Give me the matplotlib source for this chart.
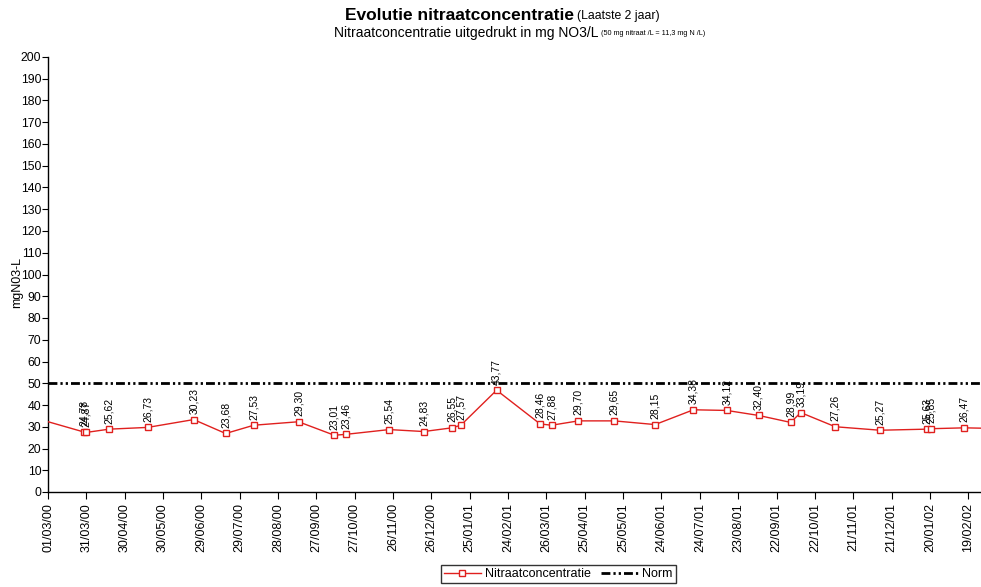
import matplotlib
matplotlib.use("Agg")
import matplotlib.pyplot as plt
import matplotlib.dates as mdates
import numpy as np
import datetime as dt

plt.rcParams['font.family'] = ['Liberation Sans', 'DejaVu Sans']

# Sample dates (dd/mm/yy) and plotted concentration values (mg NO3/L)
dates = ["20/02/00", "29/03/00", "31/03/00", "18/04/00", "18/05/00", "23/06/00", "18/07/00",
         "09/08/00", "13/09/00", "11/10/00", "20/10/00", "23/11/00", "20/12/00",
         "11/01/01", "18/01/01", "15/02/01", "21/03/01", "30/03/01", "20/04/01",
         "18/05/01", "19/06/01", "19/07/01", "14/08/01", "08/09/01", "03/10/01",
         "11/10/01", "07/11/01", "12/12/01", "18/01/02", "21/01/02", "16/02/02", "05/03/02"]
values = [34.0, 27.6, 27.4, 28.9, 29.7, 33.3, 26.9,
          30.7, 32.3, 26.1, 26.5, 28.7, 27.8,
          29.5, 30.7, 46.8, 31.3, 30.7, 32.7,
          32.7, 31.0, 37.8, 37.5, 35.2, 32.0,
          36.5, 30.0, 28.4, 28.9, 29.1, 29.5, 29.3]
# Value labels printed above the markers ('' = no label)
labels = ["", "24,78", "24,87", "25,62", "26,73", "30,23", "23,68",
          "27,53", "29,30", "23,01", "23,46", "25,54", "24,83",
          "26,55", "27,57", "43,77", "28,46", "27,88", "29,70",
          "29,65", "28,15", "34,38", "34,12", "32,40", "28,99",
          "33,19", "27,26", "25,27", "25,63", "25,85", "26,47", ""]

norm_value = 50
start_date = "01/03/00"
tick_step_days = 30
n_ticks = 25
end_date = "28/02/02"

def parse(s):
    return dt.datetime.strptime(s, "%d/%m/%y")

x = [parse(d) for d in dates]
start = parse(start_date)
ticks = [start + dt.timedelta(days=tick_step_days * k) for k in range(n_ticks)]

W, H = 981, 587
fig = plt.figure(figsize=(W / 100, H / 100), dpi=100)
ax = fig.add_axes([48 / W, 1 - 492 / H, (981 - 48) / W, (492 - 57) / H])

red = '#e0201e'
ax.plot(x, values, color=red, lw=1.0, marker='s', markersize=5.0,
        markerfacecolor='white', markeredgecolor=red, markeredgewidth=1.0,
        label='Nitraatconcentratie', zorder=3)
ax.axhline(norm_value, color='black', lw=2.0, dashes=(3.2, 1.1, 0.8, 1.1, 0.8, 1.1),
           label='Norm', zorder=2)

for xi, vi, lab in zip(x, values, labels):
    if lab:
        ax.annotate(lab, (xi, vi), xytext=(0, 4), textcoords='offset points',
                    rotation=90, ha='center', va='bottom', fontsize=7.5, zorder=4)

ax.set_xlim(start, parse(end_date) + dt.timedelta(days=1))
ax.set_ylim(0, 200)
ax.set_yticks(np.arange(0, 201, 10))
ax.set_xticks(ticks)
ax.xaxis.set_major_formatter(mdates.DateFormatter('%d/%m/%y'))
ax.tick_params(axis='x', rotation=90, labelsize=9, length=5, direction='out', pad=3)
ax.tick_params(axis='y', labelsize=8.8, length=4, direction='out', pad=0.8)
for s in ['top', 'right']:
    ax.spines[s].set_visible(False)
ax.spines['left'].set_linewidth(1.0)
ax.spines['bottom'].set_linewidth(1.0)

ax.set_ylabel('mgN03-L', fontsize=9)
ax.yaxis.set_label_coords((23 - 48) / 933, (492 - 283) / 435)

# Titles
fig.text(574 / W, 1 - 15 / H, 'Evolutie nitraatconcentratie', ha='right', va='center',
         fontsize=12.5, fontweight='bold')
fig.text(577 / W, 1 - 15.5 / H, '(Laatste 2 jaar)', ha='left', va='center', fontsize=8.8)
fig.text(598 / W, 1 - 33 / H, 'Nitraatconcentratie uitgedrukt in mg NO3/L', ha='right',
         va='center', fontsize=10)
fig.text(601 / W, 1 - 33.5 / H, '(50 mg nitraat /L = 11,3 mg N /L)', ha='left',
         va='center', fontsize=5.2)

leg = fig.legend(loc='center', bbox_to_anchor=(558 / W, 1 - 574 / H), ncol=2,
                 fontsize=9, frameon=True, fancybox=False, edgecolor='black',
                 handlelength=3, columnspacing=0.8, borderpad=0.25, handletextpad=0.3)
leg.get_frame().set_linewidth(1.0)

fig.savefig('out.png', dpi=100)
